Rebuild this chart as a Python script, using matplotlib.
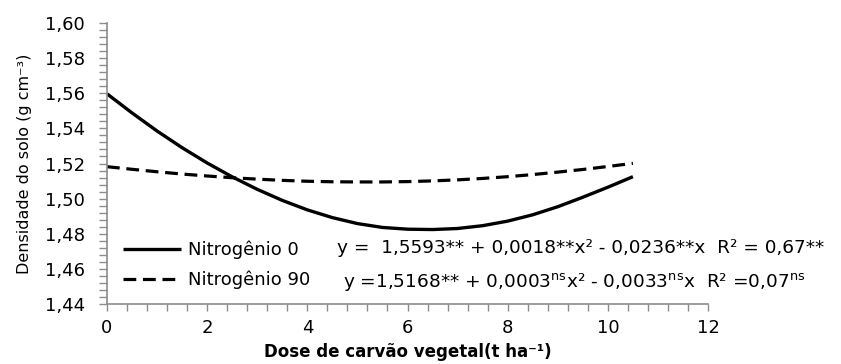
import numpy as np
import matplotlib.pyplot as plt
from matplotlib.ticker import MultipleLocator, FuncFormatter

plt.rcParams['font.family'] = ['DejaVu Sans']
plt.rcParams['mathtext.fontset'] = 'dejavusans'

# values
dose = [0, 0.5, 1, 1.5, 2, 2.5, 3, 3.5, 4, 4.5, 5, 5.5,
        6, 6.5, 7, 7.5, 8, 8.5, 9, 9.5, 10, 10.5]
dens_n0 = [1.5597, 1.5488, 1.5385, 1.5290, 1.5203, 1.5124, 1.5053, 1.4990,
           1.4936, 1.4892, 1.4858, 1.4836, 1.4826, 1.4824, 1.4830, 1.4846,
           1.4872, 1.4908, 1.4954, 1.5008, 1.5065, 1.5125]
dens_n90 = [1.5182, 1.5167, 1.5153, 1.5140, 1.5129, 1.5119, 1.5111, 1.5104,
            1.5099, 1.5096, 1.5095, 1.5095, 1.5097, 1.5101, 1.5107, 1.5115,
            1.5125, 1.5137, 1.5151, 1.5166, 1.5183, 1.5201]
labels = ["Nitrogênio 0", "Nitrogênio 90"]
equations = ["y =  1,5593** + 0,0018**x² - 0,0236**x  R² = 0,67**",
             r"y =1,5168** + 0,0003$^{\mathregular{ns}}$x² - 0,0033$^{\mathregular{ns}}$x  R² =0,07$^{\mathregular{ns}}$"]

grey = "#8c8c8c"

fig = plt.figure(figsize=(8.41, 3.64), dpi=100)
ax = fig.add_axes([0.1272, 0.1648, 0.8419 - 0.1272, 0.9368 - 0.1648])

(l0,) = ax.plot(dose, dens_n0, color="black", lw=2.4, solid_capstyle="butt")
(l1,) = ax.plot(dose, dens_n90, color="black", lw=2.3, ls=(0, (4.0, 2.1)))

ax.set_xlim(0, 12)
ax.set_ylim(1.44, 1.60)
ax.xaxis.set_major_locator(MultipleLocator(2))
ax.xaxis.set_minor_locator(MultipleLocator(0.4))
ax.yaxis.set_major_locator(MultipleLocator(0.02))
ax.yaxis.set_minor_locator(MultipleLocator(0.004))
ax.yaxis.set_major_formatter(FuncFormatter(lambda v, p: f"{v:.2f}".replace(".", ",")))

for s in ["top", "right"]:
    ax.spines[s].set_visible(False)
for s in ["left", "bottom"]:
    ax.spines[s].set_color(grey)
    ax.spines[s].set_linewidth(1.2)
ax.tick_params(which="both", color=grey, width=1.0)
ax.tick_params(axis="x", which="both", length=5, labelsize=13, pad=6)
ax.tick_params(axis="y", which="both", length=6, labelsize=13, pad=10)

ax.set_xlabel("Dose de carvão vegetal(t ha⁻¹)", fontsize=12, fontweight="bold", labelpad=4)
ax.set_ylabel("Densidade do solo (g cm⁻³)", fontsize=11.5, labelpad=9)

leg = ax.legend([l0, l1], labels, loc="lower left", bbox_to_anchor=(0.0, -0.005),
                frameon=False, fontsize=13, handlelength=3.2, handletextpad=0.4,
                labelspacing=0.65)

ax.text(0.383, 0.2, equations[0], transform=ax.transAxes, fontsize=13.3, va="center")
ax.text(0.392, 0.078, equations[1], transform=ax.transAxes, fontsize=13.3, va="center")

fig.savefig("out.png", dpi=100)
